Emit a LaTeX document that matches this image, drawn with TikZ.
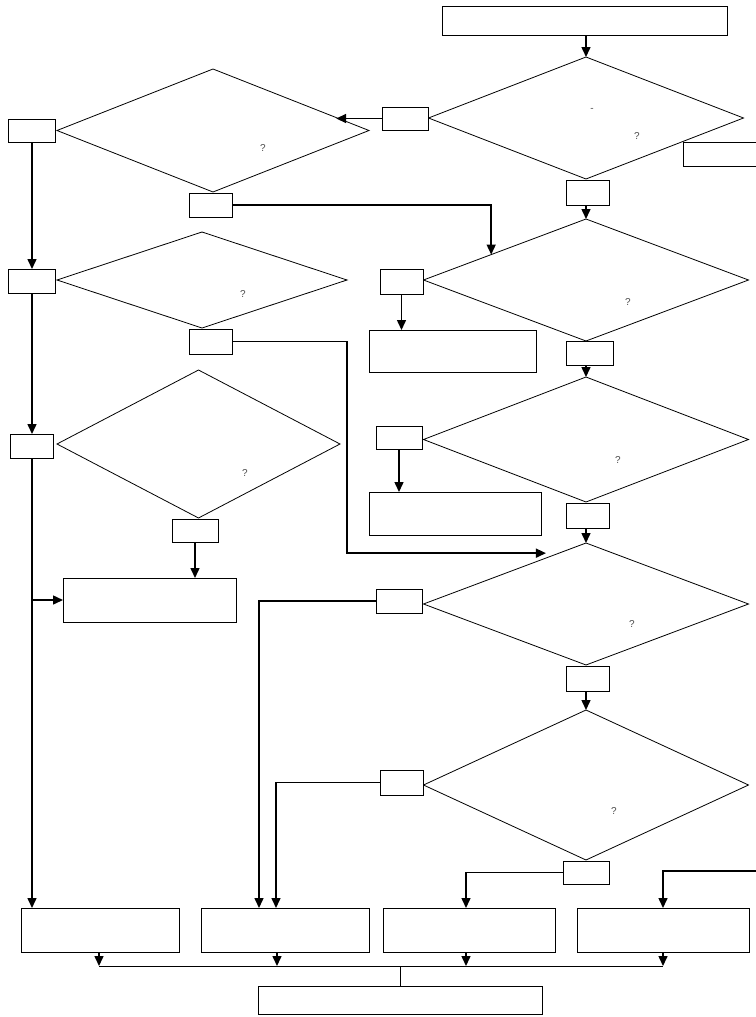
\documentclass[tikz,border=0pt]{standalone}
\usepackage{fontspec}
\setmainfont{Liberation Sans}
\usetikzlibrary{shapes.geometric,arrows.meta}
\begin{document}
\begin{tikzpicture}[x=1pt,y=-1pt,
  box/.style={draw,fill=white,line width=0.8pt,inner sep=0pt,outer sep=0pt},
  dia/.style={draw,diamond,line width=0.8pt,inner sep=0pt,outer sep=0pt},
  sz/.style 2 args={minimum width=#1,minimum height=#2},
  lbl/.style={font=\fontsize{10}{11}\selectfont,text=black!70,inner sep=0pt},
  arr/.style={line width=1.5pt,-{Triangle[length=10pt,width=9pt]}},
  wire/.style={line width=0.8pt}]
\useasboundingbox (0,0) rectangle (755,1017);
\node[dia,sz={315}{122}] (d1) at (586,118) {};
\node[dia,sz={312}{123}] (d2) at (213,130.5) {};
\node[dia,sz={325}{122}] (d3) at (586,280) {};
\node[dia,sz={325}{125}] (d4) at (586,439.5) {};
\node[dia,sz={325}{122}] (d5) at (586,604) {};
\node[dia,sz={325}{150}] (d6) at (586,785) {};
\node[dia,sz={290}{96}] (d7) at (202,280) {};
\node[dia,sz={283}{148}] (d8) at (198.5,444) {};
\node[lbl] (dash1) at (592,110) {-};
\node[lbl] (q1) at (637,136) {?};
\node[lbl] (q2) at (263,148) {?};
\node[lbl] (q3) at (628,302) {?};
\node[lbl] (q4) at (618,460) {?};
\node[lbl] (q5) at (632,624) {?};
\node[lbl] (q6) at (614,811) {?};
\node[lbl] (q7) at (243,294) {?};
\node[lbl] (q8) at (245,473) {?};
\node[box,sz={285}{29}] (top) at (584.5,20.5) {};
\node[box,sz={46}{23}] (s1) at (405,118.5) {};
\node[box,sz={43}{25}] (s2) at (587.5,192.5) {};
\node[box,sz={87}{24}] (s3) at (726.5,154) {};
\node[box,sz={47}{23}] (s4) at (32,130.5) {};
\node[box,sz={43}{24}] (s5) at (210.5,205) {};
\node[box,sz={43}{25}] (s6) at (401.5,281.5) {};
\node[box,sz={47}{24}] (s7) at (589.5,353) {};
\node[box,sz={46}{23}] (s8) at (399,437.5) {};
\node[box,sz={43}{25}] (s9) at (587.5,515.5) {};
\node[box,sz={46}{24}] (s10) at (399,601) {};
\node[box,sz={43}{25}] (s11) at (587.5,678.5) {};
\node[box,sz={43}{25}] (s12) at (401.5,782.5) {};
\node[box,sz={46}{23}] (s13) at (586,872.5) {};
\node[box,sz={47}{24}] (s14) at (32,281) {};
\node[box,sz={43}{25}] (s15) at (210.5,341.5) {};
\node[box,sz={43}{24}] (s16) at (32,446) {};
\node[box,sz={46}{23}] (s17) at (195,530.5) {};
\node[box,sz={167}{42}] (r1) at (452.5,351) {};
\node[box,sz={172}{43}] (r2) at (455,513.5) {};
\node[box,sz={173}{44}] (r3) at (149.5,600) {};
\node[box,sz={158}{44}] (e1) at (100,930) {};
\node[box,sz={168}{44}] (e2) at (285,930) {};
\node[box,sz={172}{44}] (e3) at (469,930) {};
\node[box,sz={172}{44}] (e4) at (663,930) {};
\node[box,sz={284}{28}] (fin) at (400,1000) {};
\coordinate (rin) at (760,871);
\coordinate (bus) at (400,966);
\draw[arr] (d1.north |- top.south) -- (d1.north);
\draw[arr] (s1.west) -- (s1.west -| d2.6);
\draw[arr] (s4.south) -- (s14.north);
\draw[arr] (s5.east) -| (d3.165);
\draw[arr] (d3.north |- s2.south) -- (d3.north);
\draw[arr] (s6.south) -- (s6.south |- r1.north);
\draw[arr] (d4.north |- s7.south) -- (d4.north);
\draw[arr] (s8.south) -- (s8.south |- r2.north);
\draw[arr] (d5.north |- s9.south) -- (d5.north);
\draw[arr] (s10.west) -| ([xshift=-26pt]e2.north);
\draw[arr] (d6.north |- s11.south) -- (d6.north);
\draw[arr] (s12.west) -| ([xshift=-9pt]e2.north);
\draw[arr] (s13.west) -| ([xshift=-3pt]e3.north);
\draw[arr] (rin) -| (e4.north);
\draw[arr] (s14.south) -- (s16.north);
\draw[arr,shorten >=13pt] (s15.east) -- ++(115,0) |- (d5.118);
\draw[arr] (s16.south) -- (s16.south |- e1.north);
\draw[arr] (s16.south |- r3.west) -- (r3.west);
\draw[arr] (s17.south) -- (s17.south |- r3.north);
\foreach \n/\dx in {e1/-1,e2/-8,e3/-3,e4/0}
  \draw[arr] ([xshift=\dx pt]\n.south) -- ([xshift=\dx pt]\n.south |- bus);
\draw[wire] ([xshift=-1pt]e1.south |- bus) -- (e4.south |- bus);
\draw[wire] (bus) -- (fin.north);
\end{tikzpicture}
\end{document}
